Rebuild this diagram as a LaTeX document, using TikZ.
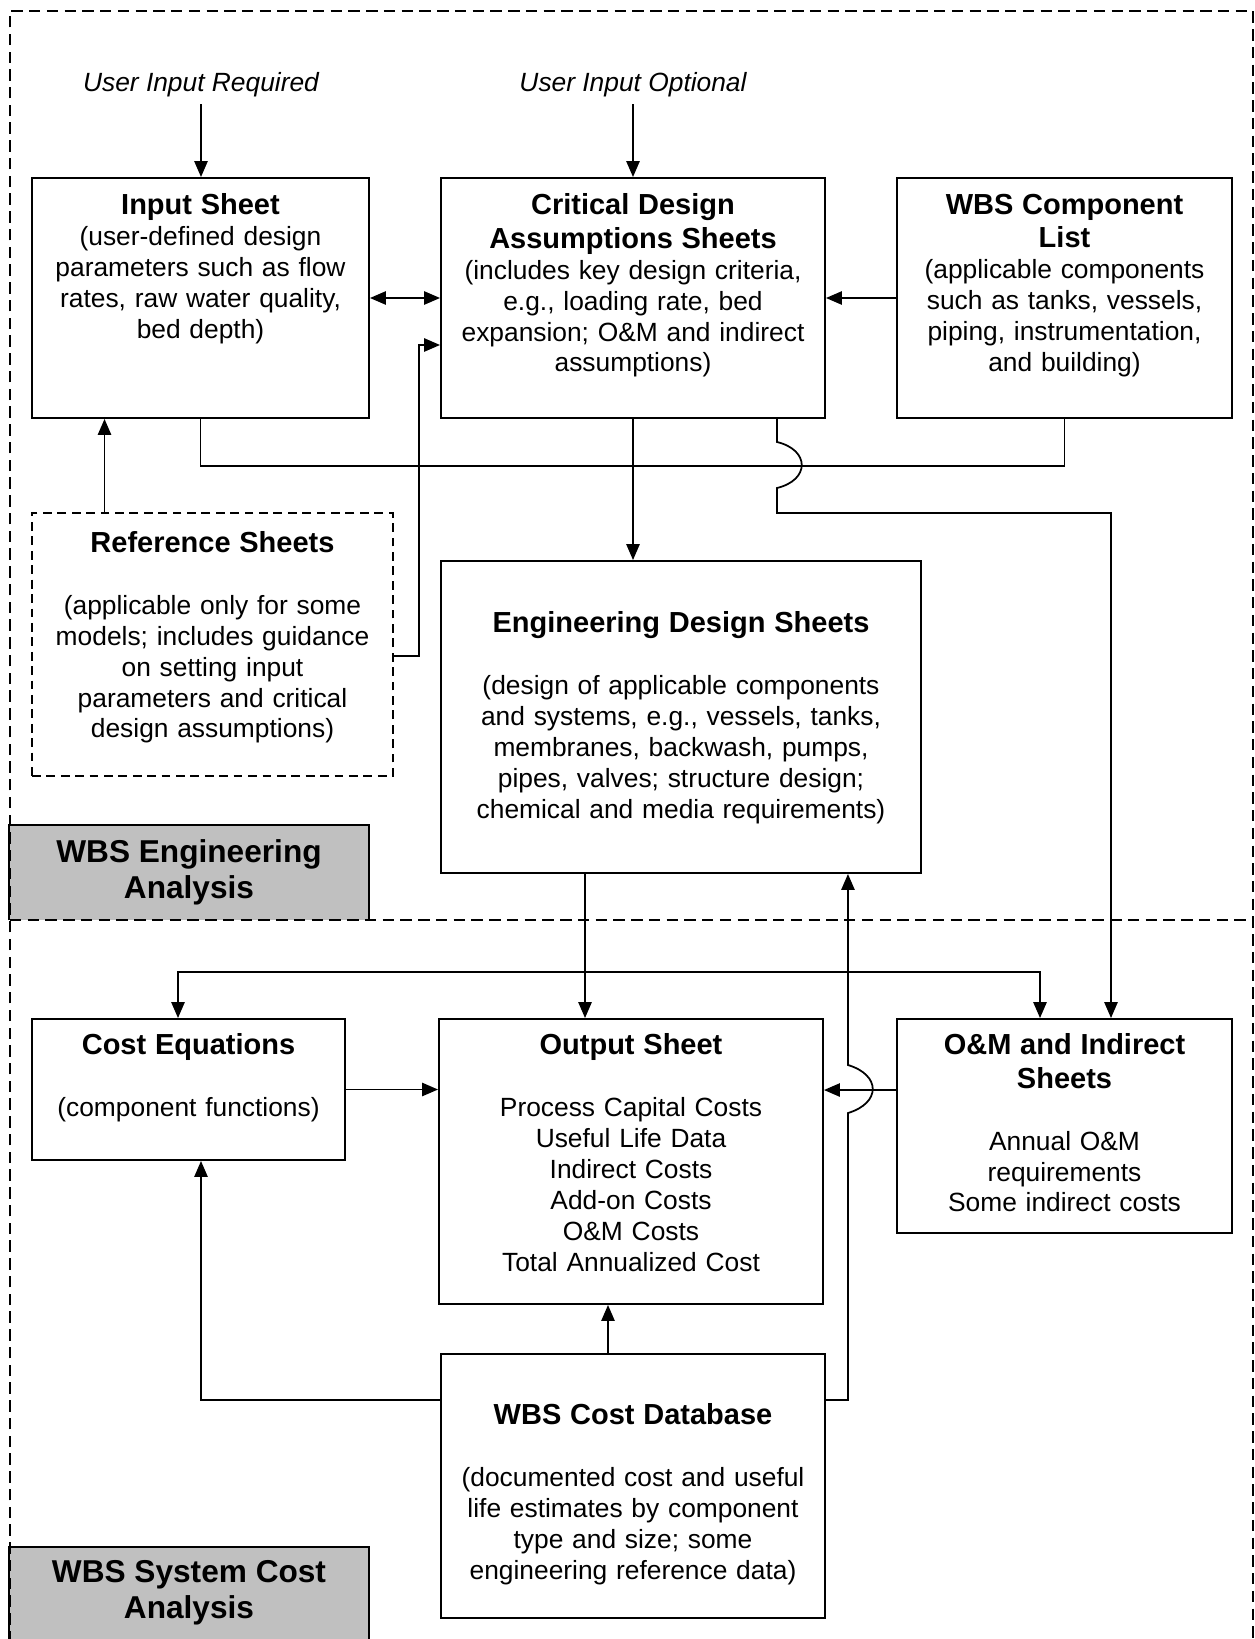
\documentclass[tikz,border=0pt]{standalone}
\usepackage{fontspec}
\setmainfont{Liberation Sans}
\usetikzlibrary{arrows.meta,positioning}

\definecolor{tagGray}{RGB}{192,192,192}
\newcommand{\bodyFont}{\fontsize{15}{17.6}\selectfont\parindent=0pt}
\newcommand{\titleFont}{\bfseries\fontsize{16.5}{19}\selectfont}
\newcommand{\tagFont}{\bfseries\fontsize{18}{20.7}\selectfont}
\newcommand{\sheetTitle}[1]{{\titleFont #1\par}}
\newcommand{\sheetGap}{\vspace{17.6pt}}

\NewDocumentCommand{\sheetbox}{mmmmmO{}}{%
\node[sheetFrame,#6,minimum width={(#4-#2)*0.02cm},minimum height={(#5-#3)*0.02cm}] (#1) at ({(#2+#4)/2},{(#3+#5)/2}) {};%
}

\tikzset{
  sheetFrame/.style={draw,line width=1.1pt,inner sep=0pt},
  refFrame/.style={dash pattern=on 5pt off 3.2pt},
  sheetText/.style={align=center,inner sep=0pt,text width=9.5cm,font=\bodyFont},
  userNote/.style={anchor=south,inner sep=0.15cm,font=\itshape\fontsize{15}{18}\selectfont},
  sectionTag/.style={fill=tagGray,inner sep=0pt,align=center,font=\tagFont},
  tagEdge/.style={line width=1.1pt},
  frameLine/.style={line width=1.4pt,dash pattern=on 6.5pt off 3.6pt},
  flow/.style={->,line width=1pt},
  biflow/.style={<->,line width=1pt},
  link/.style={line width=1pt}
}

\begin{document}
\begin{tikzpicture}[x=0.02cm,y=-0.02cm,>={Triangle[length=9pt,width=7.5pt]}]
            \useasboundingbox (0,0) rectangle (1254,1639);

            % Section tags.
            \node[sectionTag,minimum width=7.2cm,minimum height=1.9cm] (engTag) at (189,872.5) {WBS Engineering\\Analysis};
            \draw[tagEdge] (engTag.south west) |- (engTag.north east) -- (engTag.south east);
            \node[sectionTag,minimum width=7.2cm,minimum height=1.84cm] (costTag) at (189,1593) {WBS System Cost\\Analysis};
            \draw[tagEdge] (costTag.south west) |- (costTag.north east) -- (costTag.south east);

            % Outer frame and section split.
            \draw[frameLine] (10,1660) |- (1253,11) -- (1253,1660);
            \draw[frameLine] (10,920) -- (1253,920);

            % Sheets.
            \sheetbox{inp}{32}{178}{369}{418}
            \sheetbox{crit}{441}{178}{825}{418}
            \sheetbox{wbsList}{897}{178}{1232}{418}
            \sheetbox{refs}{32}{513}{393}{776}[refFrame]
            \sheetbox{eng}{441}{561}{921}{873}
            \sheetbox{cost}{32}{1019}{345}{1160}
            \sheetbox{out}{439}{1019}{823}{1304}
            \sheetbox{om}{897}{1019}{1232}{1233}
            \sheetbox{db}{441}{1354}{825}{1618}

            \node[sheetText,below=0.33cm of inp.north] (inpText) {\sheetTitle{Input Sheet}(user-defined design\\parameters such as flow\\rates, raw water quality,\\bed depth)};
            \node[sheetText,below=0.33cm of crit.north] (critText) {\sheetTitle{Critical Design\\Assumptions Sheets}(includes key design criteria,\\e.g., loading rate, bed\\expansion; O\&M and indirect\\assumptions)};
            \node[sheetText,below=0.33cm of wbsList.north] (wbsListText) {\sheetTitle{WBS Component\\List}(applicable components\\such as tanks, vessels,\\piping, instrumentation,\\and building)};
            \node[sheetText,below=0.38cm of refs.north] (refsText) {\sheetTitle{Reference Sheets}\sheetGap(applicable only for some\\models; includes guidance\\on setting input\\parameters and critical\\design assumptions)};
            \node[sheetText,below=1.03cm of eng.north] (engText) {\sheetTitle{Engineering Design Sheets}\sheetGap(design of applicable components\\and systems, e.g., vessels, tanks,\\membranes, backwash, pumps,\\pipes, valves; structure design;\\chemical and media requirements)};
            \node[sheetText,below=0.31cm of cost.north] (costText) {\sheetTitle{Cost Equations}\sheetGap(component functions)};
            \node[sheetText,below=0.31cm of out.north] (outText) {\sheetTitle{Output Sheet}\sheetGap Process Capital Costs\\Useful Life Data\\Indirect Costs\\Add-on Costs\\O\&M Costs\\Total Annualized Cost};
            \node[sheetText,below=0.31cm of om.north] (omText) {\sheetTitle{O\&M and Indirect\\Sheets}\sheetGap Annual O\&M\\requirements\\Some indirect costs};
            \node[sheetText,below=1.01cm of db.north] (dbText) {\sheetTitle{WBS Cost Database}\sheetGap(documented cost and useful\\life estimates by component\\type and size; some\\engineering reference data)};

            % User input notes.
            \node[userNote] (reqNote) at (201,104.5) {User Input Required};
            \node[userNote] (optNote) at (633,104.5) {User Input Optional};
            \draw[flow] (reqNote.south) -- (reqNote.south |- inp.north);
            \draw[flow] (optNote.south) -- (optNote.south |- crit.north);

            % Engineering links.
            \draw[biflow] (inp) -- (crit);
            \draw[flow] (wbsList) -- (crit);
            \draw[flow] ([yshift=-0.23cm]refs.east) -- ++(0.5cm,0) |- ([yshift=-0.94cm]crit.west);
            \draw[flow] ([xshift=-2.16cm]refs.north) -- ([xshift=-2.16cm]refs.north |- inp.south);
            \draw[link] (inp.south) -- ++(0,-0.94cm) -| (wbsList.south);
            \draw[flow] (crit.south) -- (crit.south |- eng.north);
            % Hop over the input/component line.
            \draw[flow] ([xshift=2.88cm]crit.south) -- (777,442) .. controls (810,450) and (810,480) .. (777,488) -- (777,513) -| ([xshift=0.93cm]om.north);

            % Cost links.
            \draw[flow] ([xshift=-1.92cm]eng.south) -- ([xshift=-1.92cm]eng.south |- out.north);
            \draw[biflow] ([xshift=-0.21cm]cost.north) |- (1040,972) -- ([xshift=-0.49cm]om.north);
            \draw[flow] (cost.east) -- (cost.east -| out.west);
            \draw[flow] ([yshift=0.72cm]om.west) -- ([yshift=0.72cm]om.west -| out.east);
            \draw[flow] ([xshift=-0.5cm]db.north) -- ([xshift=-0.5cm]db.north |- out.south);
            \draw[flow] ([yshift=1.72cm]db.west) -| ([xshift=0.25cm]cost.south);
            % Hop over the O&M line.
            \draw[flow] ([yshift=1.72cm]db.east) -- (848,1400) -- (848,1113) .. controls (881,1103) and (881,1075) .. (848,1065) -- ([xshift=3.34cm]eng.south);
\end{tikzpicture}
\end{document}
